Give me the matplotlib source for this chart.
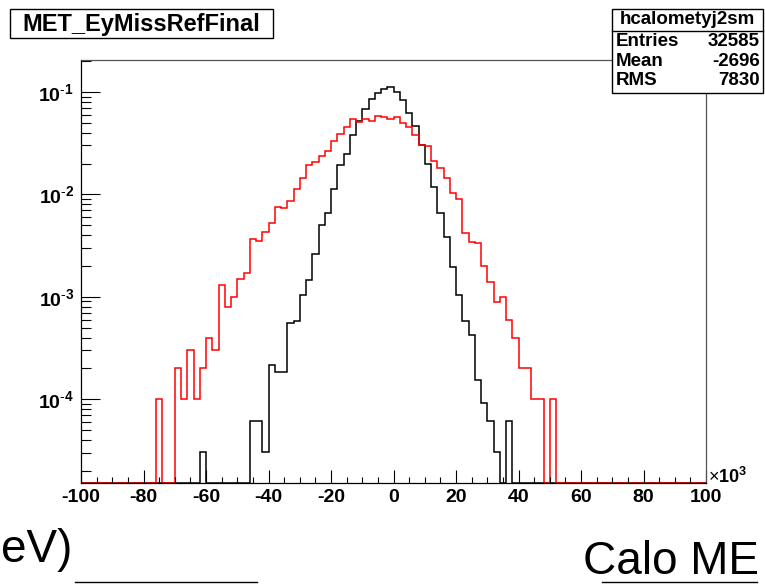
import numpy as np
import matplotlib.pyplot as plt
from matplotlib.patches import Rectangle
from matplotlib.lines import Line2D
from matplotlib.ticker import LogLocator, MultipleLocator, NullFormatter

plt.rcParams['font.family'] = ['Liberation Sans', 'DejaVu Sans']
plt.rcParams['mathtext.fontset'] = 'custom'
plt.rcParams['mathtext.rm'] = 'Liberation Sans'
plt.rcParams['mathtext.bf'] = 'Liberation Sans:bold'

# 100 bins of 2 (x10^3) from -100 to 100, normalised contents
edges = np.arange(-100, 101, 2)

ref_vals = [
    0, 0, 0, 0, 0, 0, 0, 0, 0, 0,
    0, 0, 0, 0, 0, 0, 0, 0, 0, 3.07e-5,
    0, 0, 0, 0, 0, 0, 0, 6.14e-5, 6.14e-5, 3.07e-5,
    2.15e-4, 1.84e-4, 1.84e-4, 5.5e-4, 5.8e-4, 1.03e-3, 1.46e-3, 2.64e-3, 5.02e-3, 6.63e-3,
    0.0114, 0.0192, 0.0250, 0.0376, 0.0516, 0.0675, 0.0861, 0.0985, 0.1072, 0.1105,
    0.1003, 0.0830, 0.0626, 0.0463, 0.0303, 0.0200, 0.0117, 6.53e-3, 3.81e-3, 1.94e-3,
    1.04e-3, 5.8e-4, 4.22e-4, 1.53e-4, 9.2e-5, 6.14e-5, 3.07e-5, 0, 6.14e-5, 0,
    0, 0, 0, 0, 0, 0, 0, 0, 0, 0,
    0, 0, 0, 0, 0, 0, 0, 0, 0, 0,
    0, 0, 0, 0, 0, 0, 0, 0, 0, 0,
]

new_vals = [
    0, 0, 0, 0, 0, 0, 0, 0, 0, 0,
    0, 0, 1e-4, 0, 0, 2e-4, 1e-4, 3e-4, 1e-4, 2e-4,
    4e-4, 3e-4, 1.3e-3, 8e-4, 1.0e-3, 1.5e-3, 1.7e-3, 3.67e-3, 3.53e-3, 4.27e-3,
    5.21e-3, 7.58e-3, 7.36e-3, 8.69e-3, 0.0114, 0.0146, 0.0192, 0.0209, 0.0237, 0.0267,
    0.0334, 0.0386, 0.0455, 0.0545, 0.0509, 0.0548, 0.0525, 0.0587, 0.0566, 0.0544,
    0.0566, 0.0496, 0.0452, 0.0382, 0.0303, 0.0297, 0.0213, 0.0180, 0.0143, 0.0104,
    0.0090, 4.23e-3, 3.45e-3, 3.38e-3, 2.0e-3, 1.39e-3, 8.8e-4, 1.0e-3, 6e-4, 4e-4,
    2e-4, 2e-4, 1e-4, 1e-4, 0, 1e-4, 0, 0, 0, 0,
    0, 0, 0, 0, 0, 0, 0, 0, 0, 0,
    0, 0, 0, 0, 0, 0, 0, 0, 0, 0,
]

xticks = [-100, -80, -60, -40, -20, 0, 20, 40, 60, 80, 100]
yticks = [1e-4, 1e-3, 1e-2, 1e-1]
ytick_labels = [r'$\mathbf{10^{\text{-}4}}$', r'$\mathbf{10^{\text{-}3}}$',
                r'$\mathbf{10^{\text{-}2}}$', r'$\mathbf{10^{\text{-}1}}$']

stats_rows = [('Entries', '32585'), ('Mean', '-2696'), ('RMS', '7830')]

ymin, ymax = 1.52e-5, 0.205

W, H = 765, 584
fig = plt.figure(figsize=(W / 100, H / 100), dpi=100)
ax = fig.add_axes([81 / W, 1 - 483 / H, 625 / W, 423 / H])
ax.set_yscale('log')
ax.set_xlim(-100, 100)
ax.set_ylim(ymin, ymax)

# empty bins sit on the bottom of the frame, like ROOT does
for vals, col in [(ref_vals, 'black'), (new_vals, '#ff0000')]:
    v = np.array(vals, dtype=float)
    v = np.where(v > 0, v, ymin)
    ax.stairs(v, edges, baseline=None, color=col, lw=1.1, clip_on=False)

for s in ax.spines.values():
    s.set_linewidth(0.9)
ax.spines['top'].set_color('#555555')
ax.spines['right'].set_color('#555555')

ax.set_xticks(xticks, labels=[str(t) for t in xticks])
ax.xaxis.set_minor_locator(MultipleLocator(5))
ax.set_yticks(yticks, labels=ytick_labels)
ax.yaxis.set_minor_locator(LogLocator(base=10, subs=np.arange(2, 10)))
ax.yaxis.set_minor_formatter(NullFormatter())

ax.tick_params(axis='x', which='major', direction='in', length=9.5, width=0.8,
               labelsize=14, pad=4)
ax.tick_params(axis='x', which='minor', direction='in', length=4.5, width=0.8)
ax.tick_params(axis='y', which='major', direction='in', length=14, width=0.8,
               labelsize=14, pad=5)
ax.tick_params(axis='y', which='minor', direction='in', length=7, width=0.8)
for lab in ax.get_xticklabels():
    lab.set_fontweight('bold')

ax.text(1.003, 0.014, r'$\times\mathbf{10^{3}}$', transform=ax.transAxes,
        ha='left', va='center', fontsize=13)

# histogram title box
fig.add_artist(Rectangle((10 / W, 1 - 38 / H), 263 / W, 29 / H,
                         transform=fig.transFigure, fc='white', ec='black', lw=1))
fig.text(141.5 / W, 1 - 24 / H, 'MET_EyMissRefFinal', ha='center', va='center',
         fontsize=17, fontweight='bold')

# statistics box
fig.add_artist(Rectangle((612 / W, 1 - 93 / H), 151 / W, 84 / H,
                         transform=fig.transFigure, fc='white', ec='black', lw=1,
                         zorder=5))
fig.add_artist(Line2D([612 / W, 763 / W], [1 - 30.5 / H, 1 - 30.5 / H],
                      transform=fig.transFigure, color='black', lw=1, zorder=6))
fig.text(687.5 / W, 1 - 20 / H, 'hcalometyj2sm', ha='center', va='center',
         fontsize=13.5, fontweight='bold', zorder=7)
for k, (name, val) in enumerate(stats_rows):
    yy = 1 - (41.5 + 19.5 * k) / H
    fig.text(616 / W, yy, name, ha='left', va='center', fontsize=13.5,
             fontweight='bold', zorder=7)
    fig.text(760 / W, yy, val, ha='right', va='center', fontsize=13.5,
             fontweight='bold', zorder=7)

# pieces of the neighbouring pad
fig.text(1 / W, 1 - 562 / H, 'eV)', ha='left', va='baseline', fontsize=33)
fig.text(583 / W, 1 - 574 / H, 'Calo ME', ha='left', va='baseline', fontsize=33)
for x0, x1 in [(75, 257), (602, 757)]:
    fig.add_artist(Line2D([x0 / W, x1 / W], [1 - 582 / H, 1 - 582 / H],
                          transform=fig.transFigure, color='black', lw=1))

fig.savefig('out.png', dpi=100)
